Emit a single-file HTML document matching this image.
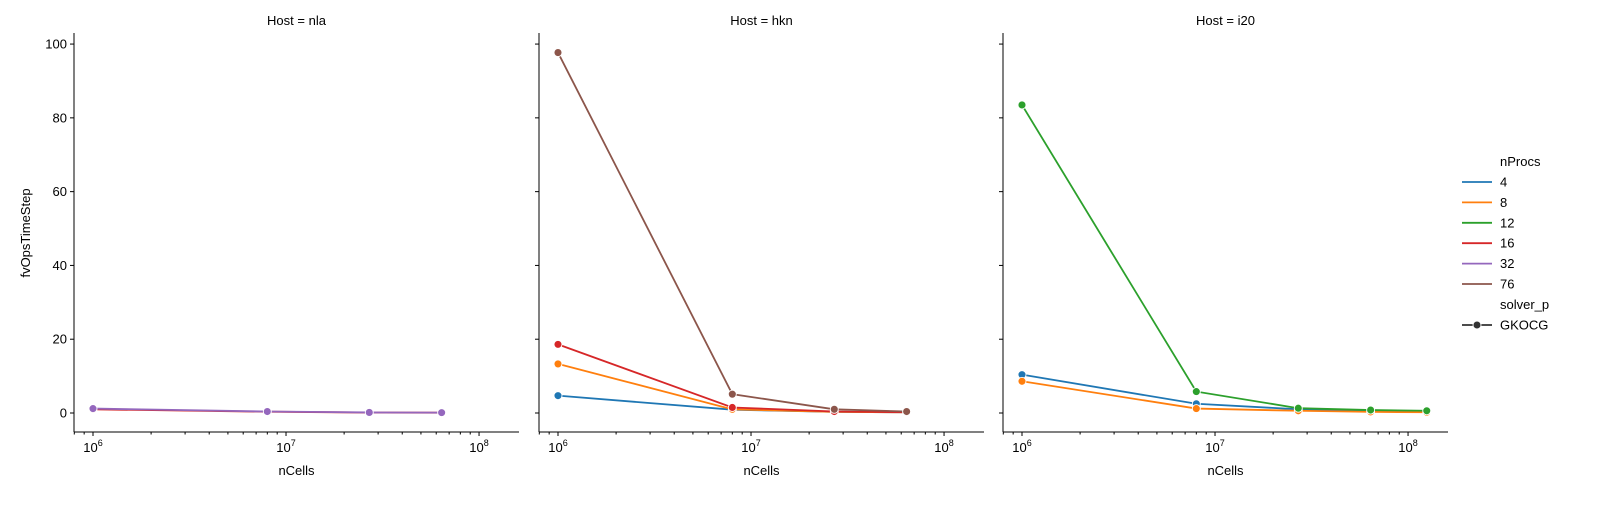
<!DOCTYPE html>
<html><head><meta charset="utf-8"><style>
body{margin:0;background:#fff;font-family:"Liberation Sans","DejaVu Sans",sans-serif;}
svg text{font-family:"Liberation Sans","DejaVu Sans",sans-serif;}
</style></head><body>
<svg id="chart" width="1607" height="500"></svg>
<script>
const hosts = ["nla","hkn","i20"];
const xCells = [1e6, 8e6, 27e6, 64e6, 125e6];
const procLabels = ["4","8","12","16","32","76"];
const colors = {"4":"#1f77b4","8":"#ff7f0e","12":"#2ca02c","16":"#d62728","32":"#9467bd","76":"#8c564b"};
const nlaSeries = {"16":[1.0,0.35,0.12,0.08],"32":[1.2,0.4,0.15,0.1]};
const hknSeries = {"4":[4.7,0.9,0.3,0.2],"8":[13.3,1.0,0.3,0.2],"16":[18.6,1.5,0.4,0.2],"76":[97.7,5.1,1.0,0.4]};
const i20Series = {"4":[10.4,2.5,1.0,0.6,0.4],"8":[8.6,1.2,0.6,0.3,0.2],"12":[83.5,5.8,1.3,0.8,0.6]};
const yTicks = [0,20,40,60,80,100];
const allSeries = [nlaSeries, hknSeries, i20Series];
const panelLeft = [74, 539, 1003];
const W = 445, TOP = 33, BOT = 432;
const LXMIN = 5.9016, LXMAX = 8.207, YMIN = -5.15, YMAX = 103;
const NS = "http://www.w3.org/2000/svg";
const svg = document.getElementById('chart');
function mk(tag, attrs, parent){const e=document.createElementNS(NS,tag);for(const k in attrs)e.setAttribute(k,attrs[k]);(parent||svg).appendChild(e);return e;}
function yPos(v){return BOT - (v-YMIN)/(YMAX-YMIN)*(BOT-TOP);}
hosts.forEach((h,pi)=>{
  const L = panelLeft[pi];
  const xPos = v => L + (Math.log10(v)-LXMIN)/(LXMAX-LXMIN)*W;
  const g = mk('g',{});
  
  
  const t = mk('text',{x:L+W/2,y:25,'text-anchor':'middle','font-size':13},g);
  t.textContent = 'Host = '+h;
  
  
  // spines
  const sp1 = mk('line',{x1:L,y1:TOP,x2:L,y2:BOT,stroke:'#000','stroke-width':1},g);
  
  
  const sp2 = mk('line',{x1:L,y1:BOT,x2:L+W,y2:BOT,stroke:'#000','stroke-width':1},g);
  
  
  yTicks.forEach(v=>{
    const y=yPos(v);
    mk('line',{x1:L-4,y1:y,x2:L,y2:y,stroke:'#000'},g);
    if(pi===0){const tl=mk('text',{x:L-7,y:y+4.5,'text-anchor':'end','font-size':13},g);tl.textContent=v;
      
      }
  });
  for(let d=5; d<=8; d++){
    for(let m=1;m<10;m++){
      const lv=d+Math.log10(m);
      if(lv<LXMIN||lv>LXMAX)continue;
      const x=L+(lv-LXMIN)/(LXMAX-LXMIN)*W;
      mk('line',{x1:x,y1:BOT,x2:x,y2:BOT+(m===1?4:2.5),stroke:'#000'},g);
      if(m===1){const tl=mk('text',{x:x,y:BOT+20,'text-anchor':'middle','font-size':13},g);
        tl.innerHTML='10<tspan dy="-6" font-size="9">'+d+'</tspan>';
        
        }
    }
  }
  const xl=mk('text',{x:L+W/2,y:475,'text-anchor':'middle','font-size':13},g);
  xl.textContent='nCells';
  
  
  const ser = allSeries[pi];
  procLabels.forEach(p=>{
    if(!ser[p])return;
    const vals=ser[p];
    const pts=vals.map((v,i)=>xPos(xCells[i])+','+yPos(v)).join(' ');
    const pl=mk('polyline',{points:pts,fill:'none',stroke:colors[p],'stroke-width':1.8},g);
    
    
    vals.forEach((v,i)=>{
      const c=mk('circle',{cx:xPos(xCells[i]),cy:yPos(v),r:4,fill:colors[p],stroke:'#fff','stroke-width':0.9},g);
      
      
    });
  });
});
const yl=mk('text',{x:30,y:233,'text-anchor':'middle','font-size':13,transform:'rotate(-90 30 233)'});
yl.textContent='fvOpsTimeStep';


// legend
const lg=mk('g',{});


const lt=mk('text',{x:1500,y:166,'font-size':13},lg);lt.textContent='nProcs';
procLabels.forEach((p,i)=>{
  const y=182+i*20.4;
  const ln=mk('line',{x1:1462,y1:y,x2:1492,y2:y,stroke:colors[p],'stroke-width':1.8},lg);
  
  
  const tx=mk('text',{x:1500,y:y+4.5,'font-size':13},lg);tx.textContent=p;
});
const st=mk('text',{x:1500,y:309,'font-size':13},lg);st.textContent='solver_p';
mk('line',{x1:1462,y1:325,x2:1492,y2:325,stroke:'#333','stroke-width':1.8},lg);
mk('circle',{cx:1477,cy:325,r:4,fill:'#333',stroke:'#fff','stroke-width':0.9},lg);
const gk=mk('text',{x:1500,y:329.5,'font-size':13},lg);gk.textContent='GKOCG';
</script>
</body></html>
